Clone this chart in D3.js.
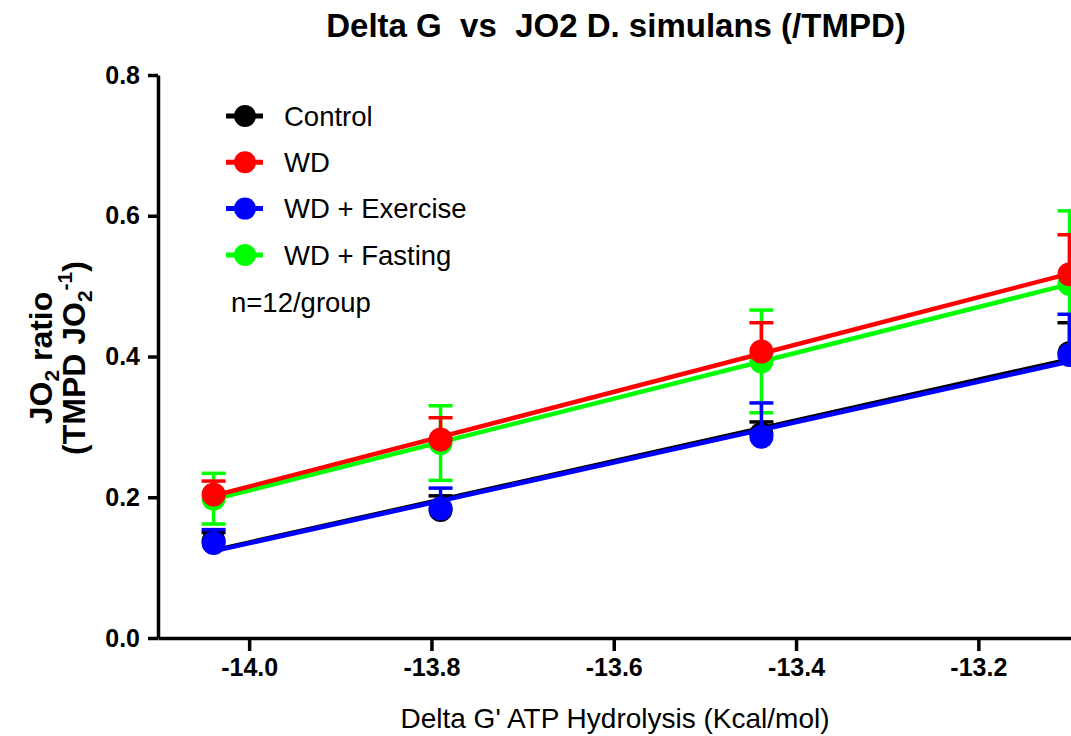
<!DOCTYPE html>
<html lang="en">
<head>
    <meta charset="UTF-8">
    <script src="https://d3js.org/d3.v7.min.js"></script>
    <style>
        body { margin: 0; background: white; }
        text { font-family: "Liberation Sans", Arial, sans-serif; fill: #000; }
        .title { font-size: 33px; font-weight: 700; text-anchor: middle; white-space: pre; }
        .axis path, .axis line { stroke: #000; stroke-width: 3.5px; }
        .axis text { font-size: 25px; font-weight: 700; }
        .xlabel { font-size: 28px; text-anchor: middle; }
        .ylabel { font-size: 32px; font-weight: 700; text-anchor: middle; }
        .legend text { font-size: 27.5px; }
    </style>
    <title>Delta G vs JO2</title>
</head>
<body>
    <svg id="chart" width="1071" height="736"></svg>
    <script>
        // delta G' values (x) for the four points
        const deltaG = [-14.039, -13.79, -13.438, -13.10];
        const groups = ["Control", "WD", "WD + Exercise", "WD + Fasting"];
        const colors = ["#000000", "#ff0000", "#0000ff", "#00ff00"];
        // mean JO2 ratio per group
        const controlMean  = [0.138, 0.182, 0.290, 0.405];
        const wdMean       = [0.204, 0.282, 0.407, 0.517];
        const exerciseMean = [0.135, 0.184, 0.286, 0.402];
        const fastingMean  = [0.198, 0.277, 0.393, 0.503];
        // SEM per group
        const controlSem  = [0.012, 0.020, 0.017, 0.043];
        const wdSem       = [0.019, 0.031, 0.041, 0.056];
        const exerciseSem = [0.019, 0.029, 0.048, 0.058];
        const fastingSem  = [0.036, 0.053, 0.073, 0.104];
        const xTicks = [-14.0, -13.8, -13.6, -13.4, -13.2];
        const yTicks = [0.0, 0.2, 0.4, 0.6, 0.8];

        // only the fasting group shows bars both above and below
        const series = [
            { name: groups[0], color: colors[0], mean: controlMean, sem: controlSem, both: false },
            { name: groups[1], color: colors[1], mean: wdMean, sem: wdSem, both: false },
            { name: groups[2], color: colors[2], mean: exerciseMean, sem: exerciseSem, both: false },
            { name: groups[3], color: colors[3], mean: fastingMean, sem: fastingSem, both: true }
        ];
        // drawing order so that overlaps look like the original
        const drawOrder = [0, 3, 2, 1];

        const svg = d3.select("#chart");
        const margin = { top: 75, left: 158, bottom: 98 };
        const height = +svg.attr("height");

        const x = d3.scaleLinear().domain([-14.1, -13.0]).range([margin.left, margin.left + 1.1 * 911.5]);
        const y = d3.scaleLinear().domain([0, 0.8]).range([height - margin.bottom, margin.top]);

        svg.append("text")
            .attr("class", "title")
            .attr("x", 616)
            .attr("y", 37)
            .text("Delta G  vs  JO2 D. simulans (/TMPD)");

        // axes
        const xAxis = d3.axisBottom(x).tickValues(xTicks).tickSize(13).tickPadding(7)
            .tickFormat(d3.format(".1f")).tickSizeOuter(0);
        svg.append("g")
            .attr("class", "axis")
            .attr("transform", "translate(0," + y(0) + ")")
            .call(xAxis)
            .selectAll("text").text(d => d3.format(".1f")(d).replace("−", "-"));

        const yAxis = d3.axisLeft(y).tickValues(yTicks).tickSize(10).tickPadding(8)
            .tickFormat(d3.format(".1f")).tickSizeOuter(0);
        svg.append("g")
            .attr("class", "axis")
            .attr("transform", "translate(" + margin.left + ",0)")
            .call(yAxis);

        // axis titles
        svg.append("text")
            .attr("class", "xlabel")
            .attr("x", 615)
            .attr("y", 728)
            .text("Delta G' ATP Hydrolysis (Kcal/mol)");

        const yl = svg.append("g").attr("transform", "translate(0,358) rotate(-90)");
        const l1 = yl.append("text").attr("class", "ylabel").attr("x", 0).attr("y", 52);
        l1.append("tspan").text("JO");
        l1.append("tspan").attr("font-size", "21px").attr("dy", 7).text("2");
        l1.append("tspan").attr("dy", -7).text(" ratio");
        const l2 = yl.append("text").attr("class", "ylabel").attr("x", 0).attr("y", 85);
        l2.append("tspan").text("(TMPD JO");
        l2.append("tspan").attr("font-size", "21px").attr("dy", 7).text("2");
        l2.append("tspan").attr("font-size", "21px").attr("dy", -20).text("-1");
        l2.append("tspan").attr("dy", 13).text(")");

        // least squares fit of the means
        function fit(xs, ys) {
            const mx = d3.mean(xs), my = d3.mean(ys);
            const slope = d3.sum(xs, (v, i) => (v - mx) * (ys[i] - my)) / d3.sum(xs, v => (v - mx) * (v - mx));
            return v => my + slope * (v - mx);
        }

        const plot = svg.append("g");
        drawOrder.forEach(k => {
            const s = series[k];
            const g = plot.append("g");
            const f = fit(deltaG, s.mean);
            const ext = d3.extent(deltaG);
            g.append("line")
                .attr("x1", x(ext[0])).attr("y1", y(f(ext[0])))
                .attr("x2", x(ext[1])).attr("y2", y(f(ext[1])))
                .attr("stroke", s.color).attr("stroke-width", 4.5);
            const pts = deltaG.map((d, i) => ({ x: d, m: s.mean[i], e: s.sem[i] }));
            const bars = g.selectAll(".err").data(pts).enter().append("g")
                .attr("stroke", s.color).attr("stroke-width", 3.5);
            bars.append("line")
                .attr("x1", d => x(d.x)).attr("x2", d => x(d.x))
                .attr("y1", d => y(s.both ? d.m - d.e : d.m)).attr("y2", d => y(d.m + d.e));
            const signs = s.both ? [1, -1] : [1];
            signs.forEach(sign => {
                bars.append("line")
                    .attr("x1", d => x(d.x) - 12).attr("x2", d => x(d.x) + 12)
                    .attr("y1", d => y(d.m + sign * d.e)).attr("y2", d => y(d.m + sign * d.e));
            });
            g.selectAll("circle").data(pts).enter().append("circle")
                .attr("cx", d => x(d.x)).attr("cy", d => y(d.m))
                .attr("r", 12).attr("fill", s.color);
        });

        // legend
        const legend = svg.append("g").attr("class", "legend");
        series.forEach((s, i) => {
            const row = legend.append("g").attr("transform", "translate(0," + (116 + i * 46.3) + ")");
            row.append("line").attr("x1", 226).attr("x2", 263)
                .attr("stroke", s.color).attr("stroke-width", 5);
            row.append("circle").attr("cx", 245).attr("r", 11).attr("fill", s.color);
            row.append("text").attr("x", 284).attr("dy", "0.35em").text(s.name);
        });
        legend.append("text").attr("x", 231).attr("y", 302).attr("dy", "0.35em")
            .text("n=12/group");
    </script>
</body>
</html>
